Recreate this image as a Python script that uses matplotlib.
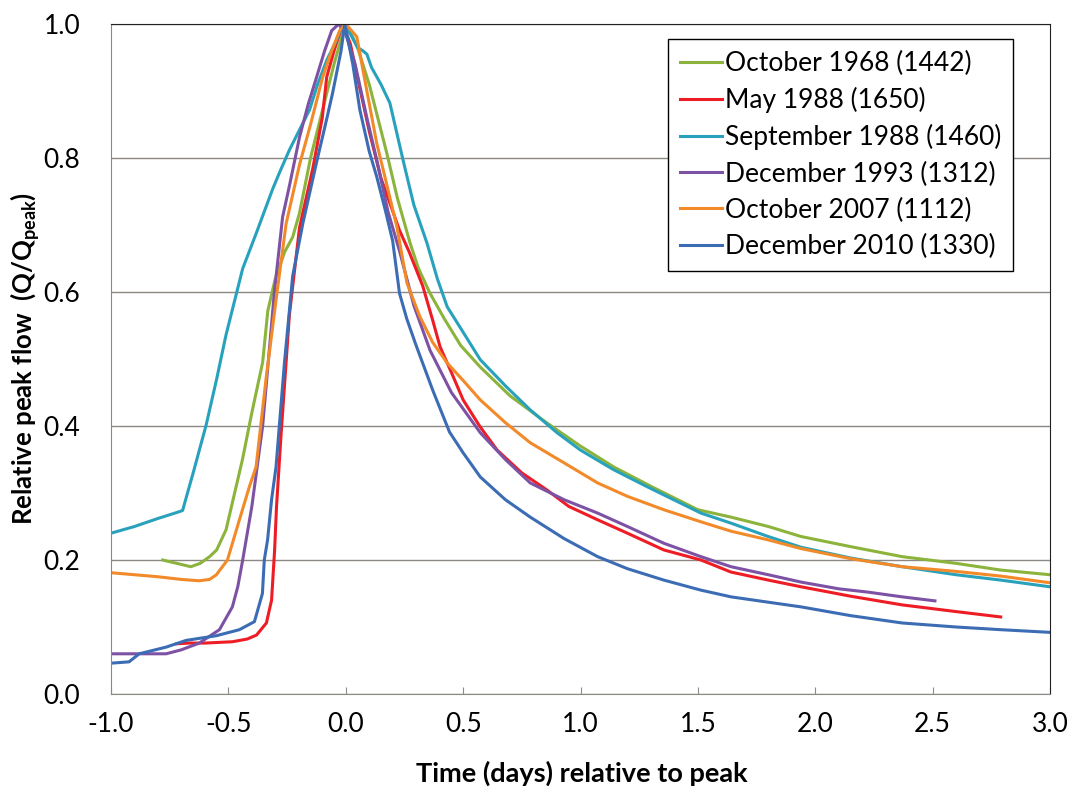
import numpy as np
import matplotlib
matplotlib.use('Agg')
import matplotlib.pyplot as plt

# hydrographs: time (days) relative to peak, Q/Qpeak
oct68_t = [-0.78, -0.72, -0.66, -0.62, -0.58, -0.55, -0.51, -0.48, -0.44, -0.40, -0.354, -0.332, -0.30, -0.26,
           -0.226, -0.197, -0.15, -0.10, -0.05, -0.01, 0.01, 0.05, 0.10, 0.175, 0.22, 0.274, 0.31, 0.359, 0.42,
           0.49, 0.573, 0.70, 0.859, 1.0, 1.141, 1.3, 1.5, 1.641, 1.8, 1.94, 2.15, 2.37, 2.6, 2.79, 3.0]
oct68_q = [0.200, 0.195, 0.190, 0.195, 0.205, 0.215, 0.245, 0.29, 0.35, 0.42, 0.495, 0.572, 0.62, 0.66,
           0.682, 0.718, 0.80, 0.87, 0.94, 0.99, 0.995, 0.965, 0.91, 0.807, 0.74, 0.673, 0.635, 0.598, 0.56,
           0.52, 0.488, 0.445, 0.404, 0.37, 0.339, 0.31, 0.275, 0.264, 0.25, 0.235, 0.22, 0.205, 0.195, 0.185, 0.178]

may88_t = [-0.72, -0.667, -0.60, -0.483, -0.42, -0.38, -0.338, -0.316, -0.303, -0.295, -0.276, -0.24, -0.197,
           -0.14, -0.10, -0.081, -0.05, -0.013, 0.02, 0.05, 0.10, 0.15, 0.229, 0.27, 0.328, 0.371, 0.402, 0.45,
           0.50, 0.57, 0.645, 0.75, 0.859, 0.95, 1.073, 1.2, 1.355, 1.513, 1.641, 1.8, 1.94, 2.15, 2.37, 2.6, 2.79]
may88_q = [0.075, 0.076, 0.076, 0.078, 0.082, 0.088, 0.106, 0.14, 0.215, 0.279, 0.385, 0.566, 0.696,
           0.785, 0.86, 0.921, 0.96, 1.0, 0.97, 0.92, 0.84, 0.77, 0.692, 0.66, 0.609, 0.557, 0.518, 0.48,
           0.439, 0.40, 0.364, 0.33, 0.304, 0.28, 0.26, 0.24, 0.215, 0.2, 0.182, 0.17, 0.16, 0.146, 0.133, 0.123, 0.115]

sep88_t = [-1.0, -0.9, -0.8, -0.71, -0.695, -0.65, -0.595, -0.55, -0.51, -0.439, -0.382, -0.311, -0.28, -0.24,
           -0.20, -0.154, -0.12, -0.081, -0.04, -0.013, 0.02, 0.05, 0.073, 0.09, 0.11, 0.15, 0.188, 0.244, 0.29,
           0.346, 0.39, 0.432, 0.50, 0.573, 0.68, 0.786, 0.90, 1.0, 1.14, 1.286, 1.513, 1.641, 1.8, 1.94, 2.15,
           2.37, 2.6, 2.79, 3.0]
sep88_q = [0.24, 0.25, 0.262, 0.272, 0.274, 0.33, 0.401, 0.47, 0.536, 0.635, 0.687, 0.754, 0.78, 0.812,
           0.84, 0.872, 0.91, 0.946, 0.975, 1.0, 0.985, 0.965, 0.96, 0.955, 0.935, 0.91, 0.882, 0.797, 0.73,
           0.673, 0.62, 0.578, 0.54, 0.499, 0.46, 0.424, 0.39, 0.364, 0.335, 0.309, 0.27, 0.255, 0.235, 0.219, 0.203,
           0.19, 0.178, 0.17, 0.16]

dec93_t = [-1.0, -0.9, -0.765, -0.7, -0.624, -0.538, -0.483, -0.46, -0.439, -0.40, -0.354, -0.304, -0.269,
           -0.239, -0.197, -0.16, -0.124, -0.09, -0.06, -0.03, 0.0, 0.04, 0.09, 0.132, 0.18, 0.23, 0.29, 0.359,
           0.45, 0.573, 0.68, 0.786, 0.93, 1.073, 1.2, 1.355, 1.513, 1.641, 1.8, 1.94, 2.1, 2.226, 2.37, 2.51]
dec93_q = [0.06, 0.06, 0.06, 0.066, 0.076, 0.096, 0.13, 0.16, 0.20, 0.28, 0.40, 0.60, 0.712,
           0.76, 0.831, 0.88, 0.921, 0.96, 0.99, 1.0, 0.985, 0.94, 0.86, 0.797, 0.72, 0.66, 0.58, 0.513,
           0.45, 0.39, 0.35, 0.315, 0.29, 0.27, 0.25, 0.225, 0.205, 0.19, 0.178, 0.167, 0.157, 0.152, 0.145, 0.139]

oct07_t = [-1.0, -0.9, -0.8, -0.7, -0.624, -0.58, -0.551, -0.504, -0.453, -0.41, -0.382, -0.34, -0.297, -0.254,
           -0.197, -0.15, -0.098, -0.06, -0.026, 0.0, 0.047, 0.09, 0.132, 0.175, 0.218, 0.261, 0.316, 0.37, 0.432,
           0.50, 0.573, 0.68, 0.786, 0.93, 1.073, 1.2, 1.355, 1.513, 1.641, 1.8, 1.94, 2.15, 2.37, 2.6, 2.79, 3.0]
oct07_q = [0.181, 0.178, 0.175, 0.171, 0.169, 0.171, 0.178, 0.20, 0.26, 0.31, 0.339, 0.469, 0.588, 0.702,
           0.79, 0.85, 0.921, 0.96, 0.99, 1.0, 0.981, 0.90, 0.822, 0.76, 0.697, 0.613, 0.563, 0.525, 0.494,
           0.468, 0.439, 0.405, 0.375, 0.345, 0.315, 0.295, 0.275, 0.257, 0.243, 0.23, 0.217, 0.202, 0.19, 0.183, 0.176, 0.166]

dec10_t = [-1.0, -0.923, -0.88, -0.765, -0.68, -0.551, -0.453, -0.389, -0.355, -0.347, -0.333, -0.316, -0.297,
           -0.283, -0.261, -0.226, -0.183, -0.126, -0.08, -0.056, -0.02, -0.004, 0.03, 0.06, 0.1, 0.132, 0.17,
           0.2, 0.229, 0.26, 0.3, 0.371, 0.442, 0.50, 0.573, 0.68, 0.786, 0.93, 1.073, 1.2, 1.355, 1.513, 1.641,
           1.8, 1.94, 2.15, 2.37, 2.6, 2.79, 3.0]
dec10_q = [0.046, 0.048, 0.06, 0.07, 0.08, 0.087, 0.096, 0.108, 0.15, 0.20, 0.23, 0.29, 0.339,
           0.40, 0.495, 0.624, 0.702, 0.791, 0.86, 0.897, 0.96, 1.0, 0.94, 0.872, 0.81, 0.772, 0.72,
           0.676, 0.598, 0.56, 0.52, 0.453, 0.391, 0.36, 0.324, 0.29, 0.264, 0.232, 0.205, 0.187, 0.17, 0.155, 0.145,
           0.137, 0.13, 0.117, 0.106, 0.1, 0.096, 0.092]

labels = ['October 1968 (1442)', 'May 1988 (1650)', 'September 1988 (1460)',
          'December 1993 (1312)', 'October 2007 (1112)', 'December 2010 (1330)']
colors = ['#8CB43C', '#EE1C24', '#28A2BC', '#7D52A5', '#F28A2A', '#3C6CB4']

series = [(oct68_t, oct68_q), (may88_t, may88_q), (sep88_t, sep88_q),
          (dec93_t, dec93_q), (oct07_t, oct07_q), (dec10_t, dec10_q)]

font = 'Lato'

fig = plt.figure(figsize=(10.75, 7.91), dpi=100)
ax = fig.add_axes([111 / 1075, 1 - 694 / 791, 939 / 1075, 670 / 791])

for (t, q), lab, col in zip(series, labels, colors):
    ax.plot(t, q, color=col, linewidth=2.2, label=lab)

ticks_x = np.arange(-1.0, 3.01, 0.5)
ticks_y = np.arange(0.0, 1.01, 0.2)
ax.set_xlim(-1.0, 3.0)
ax.set_ylim(0.0, 1.0)
ax.set_xticks(ticks_x)
ax.set_yticks(ticks_y)
ax.set_xticklabels(['%.1f' % v for v in ticks_x], fontname=font, fontsize=19)
ax.set_yticklabels(['%.1f' % v for v in ticks_y], fontname=font, fontsize=19)
ax.tick_params(axis='x', direction='in', length=5, color='#8C8C8C', pad=13)
ax.tick_params(axis='y', length=0, pad=22)

ax.yaxis.grid(True, color='#8C8884', linewidth=1.0)
ax.set_axisbelow(True)
for side in ['left', 'bottom']:
    ax.spines[side].set_color('#8C8884')
for side in ['top', 'right']:
    ax.spines[side].set_color('#222222')

fig.text(582 / 1075, 1 - 773 / 791, 'Time (days) relative to peak', ha='center', va='center',
         fontname=font, fontweight='bold', fontsize=19.5)
fig.text(25 / 1075, 1 - 358 / 791, r'Relative peak flow  (Q/Q$_{\mathregular{peak}}$)', ha='center',
         va='center', rotation=90, fontname=font, fontweight='bold', fontsize=18.5)

leg = ax.legend(loc='upper right', bbox_to_anchor=((1013 - 111) / 939, (694 - 39) / 670),
                borderaxespad=0, prop={'family': font, 'size': 19}, handlelength=1.6,
                handletextpad=0.11, labelspacing=0.42, borderpad=0.45, fancybox=False, framealpha=1)
leg.get_frame().set_edgecolor('black')
leg.get_frame().set_linewidth(1.0)

fig.savefig('out.png', dpi=100)
